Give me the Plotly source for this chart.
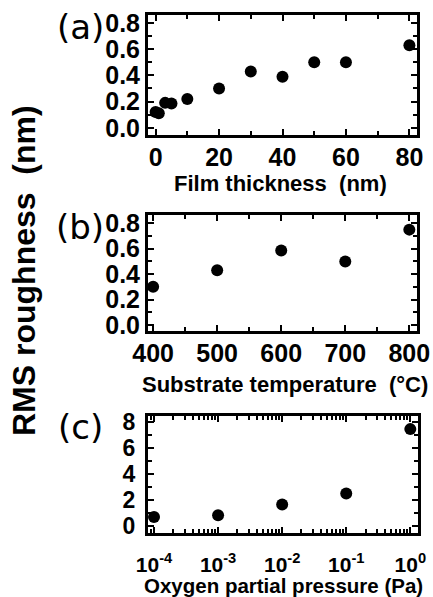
import plotly.graph_objects as go

# ---- data ----
thickness_nm = [0, 1, 3, 5, 10, 20, 30, 40, 50, 60, 80]
rms_thickness = [0.12, 0.11, 0.19, 0.185, 0.22, 0.30, 0.43, 0.39, 0.50, 0.50, 0.63]

substrate_temp_c = [400, 500, 600, 700, 800]
rms_temp = [0.30, 0.43, 0.585, 0.50, 0.75]

oxygen_pa = [1e-4, 1e-3, 1e-2, 1e-1, 1e0]
rms_oxygen = [0.72, 0.85, 1.67, 2.52, 7.48]

# tick labels
thick_ticks = [0, 20, 40, 60, 80]
temp_ticks = [400, 500, 600, 700, 800]
rms_ticks_small = [0.0, 0.2, 0.4, 0.6, 0.8]
rms_ticktext_small = ["0.0", "0.2", "0.4", "0.6", "0.8"]
rms_ticks_large = [0, 2, 4, 6, 8]
oxygen_ticks = [1e-4, 1e-3, 1e-2, 1e-1, 1e0]
oxygen_ticktext = ["10<sup>-4</sup>", "10<sup>-3</sup>", "10<sup>-2</sup>", "10<sup>-1</sup>", "10<sup>0</sup>"]

panel_labels = ["(a)", "(b)", "(c)"]
x_titles = ["Film thickness\u00a0\u00a0(nm)", "Substrate temperature\u00a0\u00a0(°C)", "Oxygen partial pressure (Pa)"]
y_title = "RMS roughness\u00a0\u00a0(nm)"

W, H = 433, 597
FONT = "Liberation Sans"

def px_x(a, b):
    return [a / W, b / W]

def px_y(top, bottom):
    return [1 - bottom / H, 1 - top / H]

def bold(labels):
    return ["<b>%s</b>" % s for s in labels]

fig = go.Figure()
marker = dict(size=12, color="black", symbol="circle")
fig.add_trace(go.Scatter(x=thickness_nm, y=rms_thickness, mode="markers", marker=marker,
                         xaxis="x", yaxis="y", showlegend=False))
fig.add_trace(go.Scatter(x=substrate_temp_c, y=rms_temp, mode="markers", marker=marker,
                         xaxis="x2", yaxis="y2", showlegend=False))
fig.add_trace(go.Scatter(x=oxygen_pa, y=rms_oxygen, mode="markers", marker=marker,
                         xaxis="x3", yaxis="y3", showlegend=False))

def tf(size):
    return dict(family=FONT, size=size, color="black", weight=700)

common = dict(showline=True, linewidth=3, linecolor="black", mirror="allticks",
              ticks="inside", ticklen=6, tickwidth=2, tickcolor="black",
              showgrid=False, zeroline=False, automargin=False)

minor = dict(ticks="inside", ticklen=4, tickwidth=2, tickcolor="black", showgrid=False)

fig.update_layout(
    template="none",
    width=W, height=H, margin=dict(l=0, r=0, t=0, b=0, autoexpand=False),
    paper_bgcolor="white", plot_bgcolor="white",
    xaxis=dict(domain=px_x(148, 417), anchor="y", range=[-2.4, 82.4],
               tickvals=thick_ticks, ticktext=bold([str(v) for v in thick_ticks]),
               minor=dict(dtick=10, tick0=0, **minor),
               tickfont=tf(25), ticklabelstandoff=-2, **common),
    yaxis=dict(domain=px_y(15, 135), anchor="x", range=[-0.055, 0.86],
               tickvals=rms_ticks_small, ticktext=bold(rms_ticktext_small),
               minor=dict(dtick=0.1, tick0=0, **minor),
               tickfont=tf(25), ticklabelstandoff=0, **common),
    xaxis2=dict(domain=px_x(148, 417), anchor="y2", range=[392, 812],
                tickvals=temp_ticks, ticktext=bold([str(v) for v in temp_ticks]),
                minor=dict(dtick=50, tick0=400, **minor),
                tickfont=tf(25), ticklabelstandoff=-2, **common),
    yaxis2=dict(domain=px_y(215, 331), anchor="x2", range=[-0.047, 0.865],
                tickvals=rms_ticks_small, ticktext=bold(rms_ticktext_small),
                minor=dict(dtick=0.1, tick0=0, **minor),
                tickfont=tf(25), ticklabelstandoff=0, **common),
    xaxis3=dict(domain=px_x(148, 418), anchor="y3", type="log", range=[-4.094, 0.12],
                tickvals=oxygen_ticks, ticktext=bold(oxygen_ticktext),
                minor=dict(dtick="D1", **minor),
                tickfont=tf(21), ticklabelstandoff=11, **common),
    yaxis3=dict(domain=px_y(416, 533), anchor="x3", range=[-0.52, 8.49],
                tickvals=rms_ticks_large, ticktext=bold([str(v) for v in rms_ticks_large]),
                minor=dict(dtick=1, tick0=0, **minor),
                tickfont=tf(23), ticklabelstandoff=5, **common),
)

annots = []
for lab, (cx, cy) in zip(panel_labels, [(80, 27), (80, 227), (80, 427)]):
    annots.append(dict(text=lab, x=cx / W, y=1 - cy / H, xref="paper", yref="paper",
                       xanchor="center", yanchor="middle", showarrow=False,
                       font=dict(family="DejaVu Sans", size=34, color="black")))
for t, (cx, cy), s in zip(x_titles, [(280, 183), (285, 384), (283, 585)], [22, 22, 20.5]):
    annots.append(dict(text="<b>%s</b>" % t, x=cx / W, y=1 - cy / H, xref="paper", yref="paper",
                       xanchor="center", yanchor="middle", showarrow=False,
                       font=dict(family=FONT, size=s, color="black", weight=700)))
annots.append(dict(text="<b>%s</b>" % y_title, x=24 / W, y=1 - 271 / H, xref="paper", yref="paper",
                   xanchor="center", yanchor="middle", showarrow=False, textangle=-90,
                   font=dict(family=FONT, size=32, color="black", weight=700)))
fig.update_layout(annotations=annots)

fig.write_html("out.html", config={"displayModeBar": False},
               post_script="document.body.style.margin='0';document.body.style.overflow='hidden';")
